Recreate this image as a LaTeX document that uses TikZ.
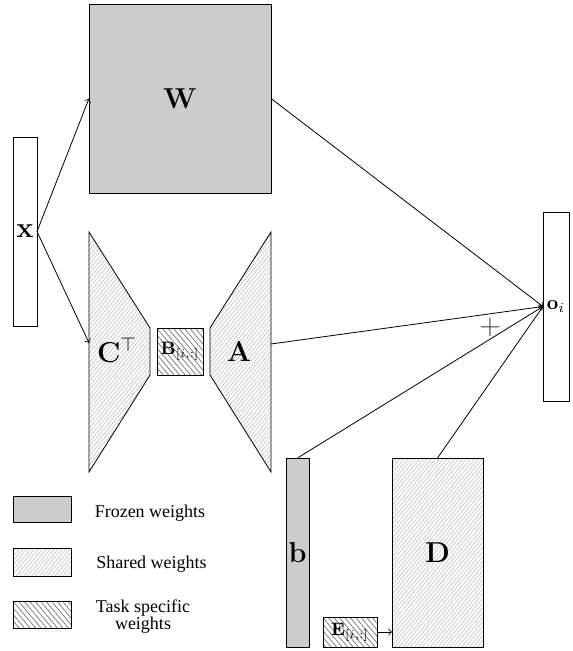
\documentclass[tikz,border=0pt]{standalone}
\usepackage[no-math]{fontspec}
\newfontfamily\legendfont{Liberation Serif}
\usetikzlibrary{patterns.meta}
\begin{document}
\begin{tikzpicture}[x=0.5pt,y=-0.5pt,
  box/.style={draw, inner sep=0pt, outer sep=0pt},
  frozen/.style={fill=black!20},
  shared/.style={pattern={Lines[angle=50,distance=1.5pt,line width=0.3pt]},pattern color=black!25},
  task/.style={pattern={Lines[angle=-50,distance=2.1pt,line width=0.35pt]},pattern color=black!55},
  lab/.style={font=\Large},
  legtext/.style={font=\legendfont\fontsize{9}{8.5}\selectfont},
  conn/.style={->}
]
\useasboundingbox (0,0) rectangle (572,651);

% input
\node[box, minimum width=12pt, minimum height=94.5pt, lab] (X) at (25,231.5) {$\mathbf{x}$};
% frozen W
\node[box, frozen, minimum width=91pt, minimum height=94.5pt, font=\Large] (W) at (180,98.5) {$\mathbf{W}$};
% C trapezoid
\draw[shared] (89,232) -- (150,328) -- (150,375) -- (89,472) -- cycle;
\node[lab] (C) at (117,350) {$\mathbf{C}^{\top}$};
\coordinate (Cin) at (89,343);
% B
\node[box, task, minimum width=23pt, minimum height=23.5pt, font=\small] (B) at (180,351.5) {$\mathbf{B}_{[i,:]}$};
% A trapezoid
\draw[shared] (271,232) -- (210,328) -- (210,375) -- (271,472) -- cycle;
\node[lab] (A) at (239,352) {$\mathbf{A}$};
\coordinate (Aout) at (271,344);
% output
\node[box, minimum width=13pt, minimum height=94.5pt] (O) at (556,306.5) {$\mathbf{o}_i$};
% b and D
\node[box, frozen, minimum width=11.5pt, minimum height=94.5pt, lab] (b) at (297.5,552.5) {$\mathbf{b}$};
\node[box, shared, minimum width=45.5pt, minimum height=94.5pt, lab] (D) at (437.5,552.5) {$\mathbf{D}$};
\node[box, task, minimum width=27pt, minimum height=15pt, font=\small] (E) at (350,632) {$\mathbf{E}_{[i,:]}$};

% connectors
\draw[conn] (X.east) -- (W.west);
\draw[conn] (X.east) -- (Cin);
\draw[conn] (W.east) -- (O.west);
\draw[conn] (Aout) -- (O.west);
\draw[conn] (b.north) -- (O.west);
\draw[conn] (D.north) -- (O.west);
\draw[conn] (E.east) -- (D.west |- E.east);
\node[font=\Large, text=black!75] (plus) at (490,327) {$+$};

% legend
\node[box, frozen, minimum width=29pt, minimum height=13pt] (Lf) at (42,509) {};
\node[box, shared, minimum width=29pt, minimum height=14pt] (Ls) at (42,562) {};
\node[box, task, minimum width=29pt, minimum height=13.5pt] (Lt) at (42,614.5) {};
\node[legtext, anchor=base] (Tf) at (150,517) {Frozen weights};
\node[legtext, anchor=base] (Ts) at (151.5,568) {Shared weights};
\node[legtext, align=center] (Tt) at (143,617) {Task specific\\weights};
\end{tikzpicture}
\end{document}
